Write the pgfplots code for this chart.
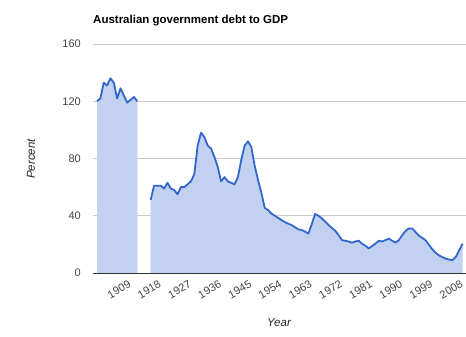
\documentclass[border=0pt]{standalone}
\usepackage{pgfplots}
\usepackage{pgfplotstable}
\pgfplotsset{compat=1.18}
\usepackage{fontspec}
\setmainfont{Liberation Sans}
\definecolor{gline}{HTML}{3366CC}
\definecolor{gfill}{HTML}{C2D1F0}
\definecolor{ggrid}{HTML}{CCCCCC}
\definecolor{gtext}{HTML}{444444}
\pgfplotstableread{
year debt
1901 120
1902 122
1903 133
1904 131
1905 136
1906 133
1907 122
1908 129
1909 124
1910 119
1911 121
1912 123
1913 120
}\segone
\pgfplotstableread{
year debt
1917 51
1918 61
1919 61
1920 61
1921 59
1922 63
1923 59
1924 58
1925 55
1926 60
1927 60
1928 62
1929 64
1930 69
1931 89
1932 98
1933 95
1934 89
1935 87
1936 81
1937 74
1938 64
1939 67
1940 64
1941 63
1942 62
1943 67
1944 79
1945 89
1946 92
1947 88
1948 75
1949 65
1950 56
1951 45.5
1952 44
1953 41.5
1954 40
1955 38.5
1956 37
1957 35.5
1958 34.5
1959 33.5
1960 32
1961 30.5
1962 30
1963 29
1964 27.5
1965 34
1966 41.3
1967 40
1968 38.2
1969 36
1970 33.6
1971 31.5
1972 29.6
1973 26.5
1974 23
1975 22.5
1976 22
1977 21.2
1978 22
1979 22.6
1980 20.5
1981 19
1982 17.2
1983 18.8
1984 20.5
1985 22.5
1986 22
1987 23
1988 24
1989 22.5
1990 21.2
1991 23
1992 26.5
1993 29.5
1994 31.2
1995 31
1996 28.5
1997 26
1998 24.5
1999 22.8
2000 19.5
2001 16.5
2002 14
2003 12.2
2004 11
2005 10
2006 9.4
2007 9
2008 11.4
2009 16
2010 20.5
}\segtwo
\begin{document}
\begin{tikzpicture}[x=1pt,y=1pt]
\useasboundingbox (0,0) rectangle (466,337);
\begin{axis}[
  at={(93pt,64pt)}, anchor=south west,
  scale only axis, width=373pt, height=229pt,
  xmin=1899.8, xmax=2011, ymin=0, ymax=160,
  axis line style={draw=none},
  axis x line*=bottom, axis y line*=left,
  ytick={0,40,80,120,160},
  xtick={1909,1918,...,2008},
  major tick length=0pt,
  ymajorgrids, grid style={ggrid, line width=0.8pt},
  /pgf/number format/1000 sep={},
  /pgf/number format/assume math mode=true,
  ticklabel style={font=\fontsize{11}{12}\selectfont, text=gtext},
  yticklabel style={anchor=east, inner sep=0pt, xshift=-12pt},
  xticklabel style={rotate=30, anchor=east, inner sep=0pt, xshift=0pt, yshift=-12pt},
  clip=false,
]
\addplot[draw=none, fill=gfill] table[x=year,y=debt]{\segone} \closedcycle;
\addplot[draw=none, fill=gfill] table[x=year,y=debt]{\segtwo} \closedcycle;
\addplot[gline, line width=1.8pt, line join=round, mark=none] table[x=year,y=debt]{\segone};
\addplot[gline, line width=1.8pt, line join=round, mark=none] table[x=year,y=debt]{\segtwo};
\draw[black!80, line width=0.9pt] (axis cs:1899.8,0) -- (axis cs:2011,0);
\end{axis}
\node[anchor=base west, inner sep=0pt, font=\bfseries\fontsize{11.5}{12}\selectfont] at (93,313) {Australian government debt to GDP};
\node[rotate=90, inner sep=0pt, font=\itshape\fontsize{11.5}{12}\selectfont, text=black!85] at (31,178) {Percent};
\node[inner sep=0pt, font=\itshape\fontsize{11.5}{12}\selectfont, text=black!85] at (279,14) {Year};
\end{tikzpicture}
\end{document}
